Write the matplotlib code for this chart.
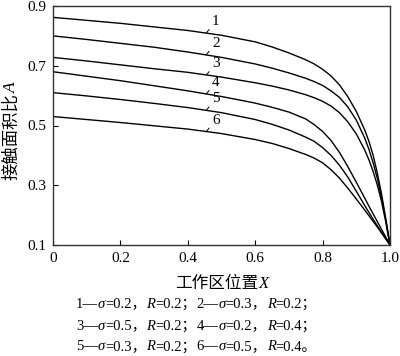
import matplotlib
matplotlib.use('Agg')
import matplotlib.pyplot as plt

SERIF = ['Liberation Serif', 'Noto Sans CJK SC']

# position along the working zone
X = [0, 0.1, 0.2, 0.3, 0.4, 0.5, 0.6, 0.65, 0.7, 0.75, 0.775, 0.8, 0.825, 0.85,
     0.875, 0.9, 0.925, 0.9375, 0.95, 0.9625, 0.975, 0.9875, 1.0]
# contact area ratio for the six cases
A1 = [0.862, 0.852, 0.842, 0.830, 0.818, 0.802, 0.780, 0.763, 0.743, 0.720, 0.706, 0.688,
      0.666, 0.636, 0.596, 0.547, 0.485, 0.447, 0.400, 0.340, 0.270, 0.188, 0.100]
A2 = [0.800, 0.788, 0.775, 0.762, 0.746, 0.728, 0.706, 0.692, 0.676, 0.658, 0.647, 0.634,
      0.616, 0.594, 0.562, 0.518, 0.458, 0.420, 0.375, 0.322, 0.258, 0.183, 0.100]
A3 = [0.728, 0.716, 0.703, 0.690, 0.678, 0.662, 0.643, 0.632, 0.619, 0.603, 0.593, 0.581,
      0.565, 0.543, 0.512, 0.472, 0.418, 0.385, 0.346, 0.300, 0.245, 0.177, 0.100]
A4 = [0.680, 0.665, 0.650, 0.633, 0.616, 0.597, 0.575, 0.561, 0.545, 0.522, 0.503, 0.480,
      0.450, 0.410, 0.362, 0.310, 0.257, 0.230, 0.204, 0.178, 0.152, 0.126, 0.100]
A5 = [0.610, 0.599, 0.587, 0.574, 0.560, 0.543, 0.520, 0.504, 0.485, 0.461, 0.447, 0.426,
      0.400, 0.367, 0.327, 0.280, 0.232, 0.209, 0.186, 0.164, 0.142, 0.121, 0.100]
A6 = [0.530, 0.520, 0.510, 0.499, 0.488, 0.473, 0.453, 0.440, 0.423, 0.403, 0.391, 0.375,
      0.352, 0.324, 0.290, 0.254, 0.217, 0.198, 0.179, 0.160, 0.140, 0.120, 0.100]
curves = [A1, A2, A3, A4, A5, A6]

# where each curve number points to
label_x = 0.455
label_y = [0.810, 0.737, 0.669, 0.606, 0.551, 0.480]

sigma = [0.2, 0.3, 0.5, 0.2, 0.3, 0.5]
R = [0.2, 0.2, 0.2, 0.4, 0.2, 0.4]

xticks = [0, 0.2, 0.4, 0.6, 0.8, 1.0]
xticklabels = ['0', '0.2', '0.4', '0.6', '0.8', '1.0']
yticks = [0.1, 0.3, 0.5, 0.7, 0.9]

fig = plt.figure(figsize=(4, 3.56), dpi=100)
ax = fig.add_axes([53/400, 1-245/356, 337/400, 239/356])

for c in curves:
    ax.plot(X, c, color='black', lw=1.0)

for i in range(6):
    ax.annotate(str(i+1), xy=(label_x, label_y[i]), xytext=(4, 3.5),
                textcoords='offset points', ha='left', va='bottom',
                fontsize=11, family=SERIF,
                arrowprops=dict(arrowstyle='-', lw=0.7, color='black',
                                shrinkA=0, shrinkB=0, relpos=(0, 0.15)))

ax.set_xlim(0, 1.0)
ax.set_ylim(0.1, 0.9)
ax.set_xticks(xticks)
ax.set_xticklabels(xticklabels)
ax.set_yticks(yticks)
ax.set_yticklabels(['%.1f' % v for v in yticks])
ax.tick_params(direction='in', length=3.5, width=0.8, pad=5, labelsize=11,
               top=False, right=False)
for lab in ax.get_xticklabels() + ax.get_yticklabels():
    lab.set_family(SERIF)
for s in ax.spines.values():
    s.set_linewidth(1.0)
    s.set_color('#333333')

fig.canvas.draw()
renderer = fig.canvas.get_renderer()
W, H = fig.bbox.width, fig.bbox.height


def draw_runs(x0, y0, runs, size=9, align='left', vertical=False):
    # runs of (text, italic); x0, y0 in pixels from top-left
    texts = []
    for txt, it in runs:
        t = fig.text(0, 0, txt, fontsize=size, family=SERIF,
                     style='italic' if it else 'normal',
                     rotation=90 if vertical else 0,
                     ha='center' if vertical else 'left',
                     va='bottom' if vertical else 'center')
        ext = t.get_window_extent(renderer)
        texts.append((t, ext.height if vertical else ext.width))
    total = sum(w for _, w in texts)
    if vertical:
        y = y0 + total / 2.0
        for t, w in texts:
            t.set_position((x0 / W, 1 - y / H))
            y -= w
    else:
        x = x0 - total / 2.0 if align == 'center' else x0
        for t, w in texts:
            t.set_position((x / W, 1 - y0 / H))
            x += w


draw_runs(222, 284, [('工作区位置', False), ('X', True)], size=12, align='center')
draw_runs(12, 131, [('接触面积比', False), ('A', True)], size=12.5, vertical=True)

caption_y = [304, 326, 347]
for row in range(3):
    runs = []
    for k in (2 * row, 2 * row + 1):
        end = '；' if k < 5 else '。'
        runs += [('%d—' % (k + 1), False), ('σ', True), ('=%.1f，' % sigma[k], False),
                 ('R', True), ('=%.1f%s' % (R[k], end), False)]
    draw_runs(76, caption_y[row], runs, size=10.5)

fig.savefig('out.png', dpi=100)
